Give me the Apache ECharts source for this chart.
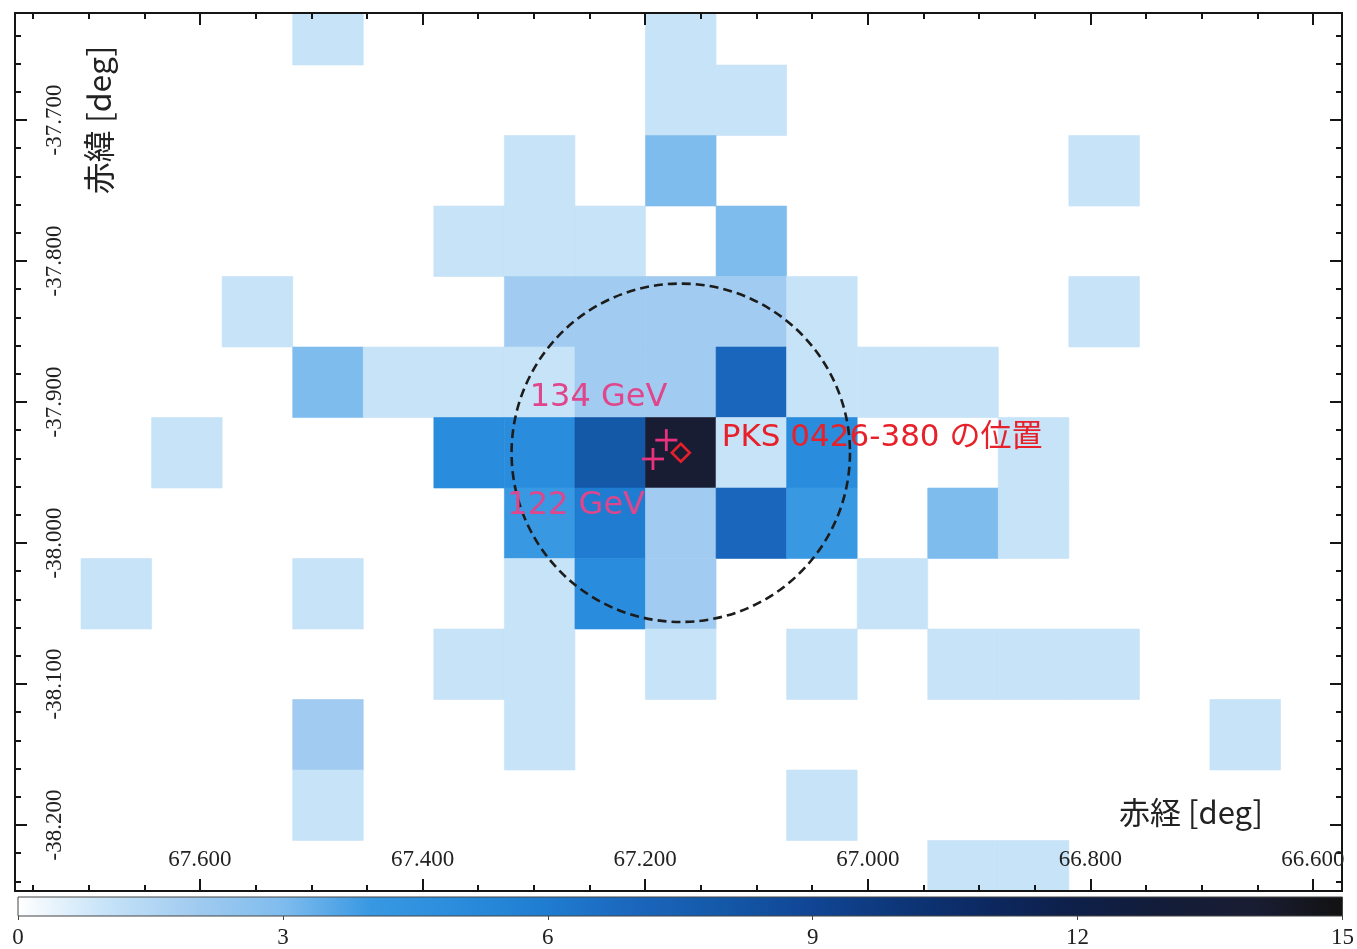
<!DOCTYPE html>
<html>
<head>
<meta charset="utf-8">
<script src="https://cdn.jsdelivr.net/npm/echarts@6/dist/echarts.min.js"></script>
<style>
  html, body { margin: 0; padding: 0; background: #ffffff; }
  #chart { width: 1357px; height: 949px; }
</style>
</head>
<body>
<div id="chart"></div>
<script>
// Photon count map around the blazar PKS 0426-380 (0.05 deg bins on the sky).

// Bin grid: size on the sky and the RA/Dec of the central bin
const binDeg = 0.05;
const mapCenter = [67.168, -37.936];
const centerCol = 9;
const centerRow = 6;

// Counts per bin, top row (highest Dec) first, left column (highest RA) first
const counts = [
  [0, 0, 0, 0, 1, 0, 0, 0, 0, 1, 0, 0, 0, 0, 0, 0, 0, 0, 0],
  [0, 0, 0, 0, 0, 0, 0, 0, 0, 1, 1, 0, 0, 0, 0, 0, 0, 0, 0],
  [0, 0, 0, 0, 0, 0, 0, 1, 0, 3, 0, 0, 0, 0, 0, 1, 0, 0, 0],
  [0, 0, 0, 0, 0, 0, 1, 1, 1, 0, 3, 0, 0, 0, 0, 0, 0, 0, 0],
  [0, 0, 0, 1, 0, 0, 0, 2, 2, 2, 2, 1, 0, 0, 0, 1, 0, 0, 0],
  [0, 0, 0, 0, 3, 1, 1, 1, 2, 2, 7, 1, 1, 1, 0, 0, 0, 0, 0],
  [0, 0, 1, 0, 0, 0, 5, 5, 8, 14, 1, 5, 0, 0, 1, 0, 0, 0, 0],
  [0, 0, 0, 0, 0, 0, 0, 4, 6, 2, 7, 4, 0, 3, 1, 0, 0, 0, 0],
  [0, 1, 0, 0, 1, 0, 0, 1, 5, 2, 0, 0, 1, 0, 0, 0, 0, 0, 0],
  [0, 0, 0, 0, 0, 0, 1, 1, 0, 1, 0, 1, 0, 1, 1, 1, 0, 0, 0],
  [0, 0, 0, 0, 2, 0, 0, 1, 0, 0, 0, 0, 0, 0, 0, 0, 0, 1, 0],
  [0, 0, 0, 0, 1, 0, 0, 0, 0, 0, 0, 1, 0, 0, 0, 0, 0, 0, 0],
  [0, 0, 0, 0, 0, 0, 0, 0, 0, 0, 0, 0, 0, 1, 1, 0, 0, 0, 0]
];

// Axis extents and tick labels
const raRange = [66.5739, 67.7662];
const decRange = [-38.2468, -37.6241];
const raMajor = [67.6, 67.4, 67.2, 67.0, 66.8, 66.6];
const decMajor = [-37.7, -37.8, -37.9, -38.0, -38.1, -38.2];
const raMinorStep = 0.05;
const decMinorStep = 0.02;
const colorbarRange = [0, 15];
const colorbarStep = 3;

// Colour scale, one stop per count from 0 to 15
const palette = [
  '#ffffff', '#c6e3f8', '#a1cbf0', '#7fbcee', '#3898e2', '#2a8cdc',
  '#1f7cd0', '#1a66bc', '#1458a8', '#104594', '#0d3678', '#0c2860',
  '#0e1f48', '#131c38', '#191d33', '#121212'
];

// Source position, the two highest-energy photons, and the circle radius (deg)
const sourceName = 'PKS 0426-380 の位置';
const sourcePos = [67.168, -37.936];
const photonLabels = ['134 GeV', '122 GeV'];
const photonRA = [67.181, 67.193];
const photonDec = [-37.927, -37.9404];
const photonLabelOffset = [[1, -42], [-8, 47]];
const circleRadius = 0.12;

const raStep = binDeg / Math.cos(mapCenter[1] * Math.PI / 180);

const cells = [];
counts.forEach((row, r) => {
  row.forEach((v, c) => {
    if (v > 0) {
      cells.push([
        mapCenter[0] + (centerCol - c) * raStep,
        mapCenter[1] + (centerRow - r) * binDeg,
        v
      ]);
    }
  });
});

function minorTicks(range, step, majors) {
  const out = [];
  const start = Math.ceil(range[0] / step - 1e-9);
  const end = Math.floor(range[1] / step + 1e-9);
  for (let k = start; k <= end; k++) {
    const v = +(k * step).toFixed(4);
    if (!majors.some(m => Math.abs(m - v) < 1e-6)) out.push(v);
  }
  return out;
}
const raMinor = minorTicks(raRange, raMinorStep, raMajor);
const decMinor = minorTicks(decRange, decMinorStep, decMajor);

const INK = '#151515';
const serif = "'Liberation Serif', 'Times New Roman', serif";
const jp = "'Noto Sans CJK JP', sans-serif";
const latin = "'DejaVu Sans', 'Noto Sans CJK JP', sans-serif";

const plotRect = { left: 15, top: 13, width: 1327, height: 878 };

function xAx(grid, pos, ticks, len, withLine, withLabel) {
  return {
    type: 'value', gridIndex: grid, position: pos, z: 10,
    min: raRange[0], max: raRange[1], inverse: true,
    splitLine: { show: false },
    axisLine: { show: withLine, onZero: false, lineStyle: { color: INK, width: 2 } },
    axisTick: { show: true, inside: true, length: len, customValues: ticks,
                lineStyle: { color: INK, width: 2 } },
    axisLabel: withLabel ? {
      show: true, inside: true, margin: 20, customValues: raMajor,
      formatter: v => Number(v).toFixed(3),
      fontFamily: serif, fontSize: 23, color: '#222'
    } : { show: false }
  };
}
function yAx(grid, pos, ticks, len, withLine, withLabel) {
  return {
    type: 'value', gridIndex: grid, position: pos, z: 10,
    min: decRange[0], max: decRange[1],
    splitLine: { show: false },
    axisLine: { show: withLine, onZero: false, lineStyle: { color: INK, width: 2 } },
    axisTick: { show: true, inside: true, length: len, customValues: ticks,
                lineStyle: { color: INK, width: 2 } },
    axisLabel: withLabel ? {
      show: true, inside: true, rotate: 90, margin: 28, customValues: decMajor,
      formatter: v => Number(v).toFixed(3),
      fontFamily: serif, fontSize: 23, color: '#222'
    } : { show: false }
  };
}

const chart = echarts.init(document.getElementById('chart'), null, { renderer: 'canvas' });

chart.setOption({
  backgroundColor: '#ffffff',
  animation: false,
  grid: [
    Object.assign({}, plotRect),
    Object.assign({}, plotRect),
    { left: 18, top: 897, width: 1327, height: 23 }
  ],
  xAxis: [
    xAx(0, 'bottom', raMajor, 12, true, true),
    xAx(0, 'top', raMajor, 12, true, false),
    xAx(1, 'bottom', raMinor, 6, false, false),
    xAx(1, 'top', raMinor, 6, false, false),
    {
      type: 'value', gridIndex: 2, position: 'bottom',
      min: colorbarRange[0], max: colorbarRange[1], interval: colorbarStep,
      splitLine: { show: false },
      axisLine: { show: false },
      axisTick: { show: true, inside: false, length: 4, lineStyle: { color: '#444', width: 1 } },
      axisLabel: { show: true, margin: 10, fontFamily: serif, fontSize: 23, color: '#222' }
    }
  ],
  yAxis: [
    yAx(0, 'left', decMajor, 12, true, true),
    yAx(0, 'right', decMajor, 12, true, false),
    yAx(1, 'left', decMinor, 6, false, false),
    yAx(1, 'right', decMinor, 6, false, false),
    { type: 'value', gridIndex: 2, min: 0, max: 1, show: false }
  ],
  visualMap: {
    show: false, type: 'continuous',
    min: colorbarRange[0], max: colorbarRange[1],
    dimension: 2, seriesIndex: 0,
    inRange: { color: palette }
  },
  graphic: [
    {
      type: 'text', x: 99, y: 120, rotation: Math.PI / 2, z: 50,
      style: { text: '赤緯 [deg]', font: '32px ' + jp, fill: '#222',
               align: 'center', verticalAlign: 'middle' }
    },
    {
      type: 'text', x: 1191, y: 812, z: 50,
      style: { text: '赤経 [deg]', font: '31px ' + jp, fill: '#222',
               align: 'center', verticalAlign: 'middle' }
    }
  ],
  series: [
    {
      // count map
      type: 'custom', name: 'counts', xAxisIndex: 0, yAxisIndex: 0, z: 1,
      data: cells,
      encode: { x: 0, y: 1 },
      renderItem: function (params, api) {
        const ra = api.value(0), dec = api.value(1);
        const a = api.coord([ra + raStep / 2, dec + binDeg / 2]);
        const b = api.coord([ra - raStep / 2, dec - binDeg / 2]);
        const rect = echarts.graphic.clipRectByRect({
          x: Math.min(a[0], b[0]), y: Math.min(a[1], b[1]),
          width: Math.abs(b[0] - a[0]), height: Math.abs(b[1] - a[1])
        }, {
          x: params.coordSys.x, y: params.coordSys.y,
          width: params.coordSys.width, height: params.coordSys.height
        });
        if (!rect) return null;
        const col = api.visual('color');
        return { type: 'rect', shape: rect,
                 style: { fill: col, stroke: col, lineWidth: 0.6 } };
      }
    },
    {
      // dashed circle around the source
      type: 'custom', name: 'circle', xAxisIndex: 0, yAxisIndex: 0, z: 5,
      data: [[sourcePos[0], sourcePos[1], circleRadius]],
      encode: { x: 0, y: 1 },
      renderItem: function (params, api) {
        const c = api.coord([api.value(0), api.value(1)]);
        const r = api.size([0, api.value(2)])[1];
        return {
          type: 'circle', shape: { cx: c[0], cy: c[1], r: r },
          style: { fill: 'none', stroke: '#1c1c1c', lineWidth: 2.6, lineDash: [9, 5] }
        };
      }
    },
    {
      // high-energy photon positions
      type: 'custom', name: 'photons', xAxisIndex: 0, yAxisIndex: 0, z: 6,
      data: photonRA.map((ra, i) => [ra, photonDec[i]]),
      encode: { x: 0, y: 1 },
      renderItem: function (params, api) {
        const p = api.coord([api.value(0), api.value(1)]);
        const s = 11;
        const i = params.dataIndex;
        const pink = '#e8327e';
        return {
          type: 'group',
          children: [
            { type: 'line', shape: { x1: p[0] - s, y1: p[1], x2: p[0] + s, y2: p[1] },
              style: { stroke: pink, lineWidth: 2.8 } },
            { type: 'line', shape: { x1: p[0], y1: p[1] - s, x2: p[0], y2: p[1] + s },
              style: { stroke: pink, lineWidth: 2.8 } },
            { type: 'text', x: p[0] + photonLabelOffset[i][0], y: p[1] + photonLabelOffset[i][1],
              style: { text: photonLabels[i], font: '32px ' + latin, fill: '#e0468c',
                       align: 'right', verticalAlign: 'middle' } }
          ]
        };
      }
    },
    {
      // source marker
      type: 'custom', name: 'source', xAxisIndex: 0, yAxisIndex: 0, z: 7,
      data: [[sourcePos[0], sourcePos[1]]],
      encode: { x: 0, y: 1 },
      renderItem: function (params, api) {
        const p = api.coord([api.value(0), api.value(1)]);
        const d = 9;
        const red = '#e3202b';
        return {
          type: 'group',
          children: [
            { type: 'polygon',
              shape: { points: [[p[0], p[1] - d], [p[0] + d, p[1]], [p[0], p[1] + d], [p[0] - d, p[1]]] },
              style: { fill: 'none', stroke: red, lineWidth: 2.6 } },
            { type: 'text', x: p[0] + 41, y: p[1] - 15,
              style: { text: sourceName, font: '31px ' + latin, fill: '#e8202a',
                       align: 'left', verticalAlign: 'middle' } }
          ]
        };
      }
    },
    {
      // colour bar
      type: 'custom', name: 'colorbar', xAxisIndex: 4, yAxisIndex: 4, z: 2,
      data: [[colorbarRange[0], colorbarRange[1]]],
      encode: { x: [0, 1] },
      renderItem: function (params, api) {
        const a = api.coord([api.value(0), 0]);
        const b = api.coord([api.value(1), 1]);
        const stops = palette.map((c, i) => ({ offset: i / (palette.length - 1), color: c }));
        return {
          type: 'rect',
          shape: { x: a[0], y: b[1], width: b[0] - a[0], height: a[1] - b[1] },
          style: {
            fill: new echarts.graphic.LinearGradient(0, 0, 1, 0, stops),
            stroke: '#444', lineWidth: 1
          }
        };
      }
    }
  ]
});
</script>
</body>
</html>
